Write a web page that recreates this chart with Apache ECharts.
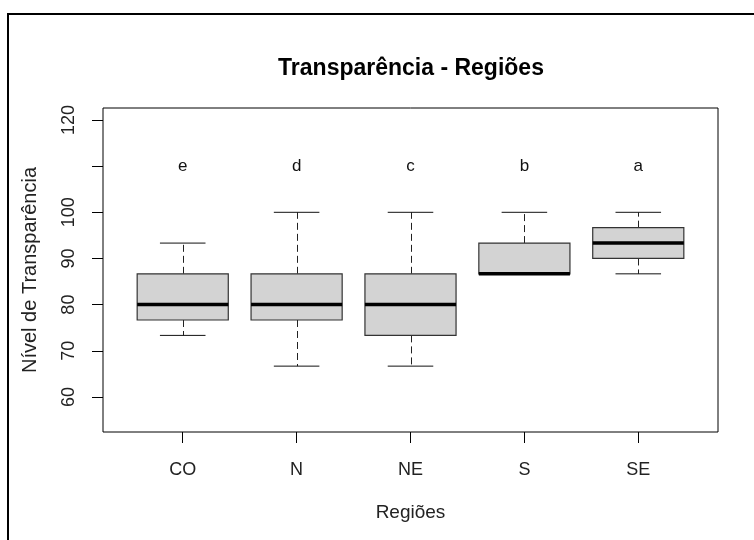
<!DOCTYPE html>
<html>
<head>
<meta charset="utf-8">
<script src="https://cdn.jsdelivr.net/npm/echarts@6/dist/echarts.min.js"></script>
<style>
  html, body { margin: 0; padding: 0; background: #fff; }
  #main { width: 754px; height: 540px; }
</style>
</head>
<body>
<div id="main"></div>
<script>
// regioes e estatisticas do boxplot (min, q1, mediana, q3, max)
var regioes = ['CO', 'N', 'NE', 'S', 'SE'];
var minimo  = [73.33, 66.67, 66.67, 86.67, 86.67];
var q1      = [76.67, 76.67, 73.33, 86.67, 90.00];
var mediana = [80.00, 80.00, 80.00, 86.67, 93.33];
var q3      = [86.67, 86.67, 86.67, 93.33, 96.67];
var maximo  = [93.33, 100.00, 100.00, 100.00, 100.00];
var letras  = ['e', 'd', 'c', 'b', 'a'];
var letraY  = 110;
var yTicks  = [60, 70, 80, 90, 100, 110, 120];
var yLabels = [60, 70, 80, 90, 100, 120];

var chart = echarts.init(document.getElementById('main'), null, { renderer: 'canvas' });

var boxData = regioes.map(function (r, i) {
  return [i + 1, minimo[i], q1[i], mediana[i], q3[i], maximo[i]];
});
var letraData = letras.map(function (l, i) { return [i + 1, letraY, l]; });

var fonte = '"Liberation Sans", Arial, sans-serif';

function renderBox(params, api) {
  var x = api.value(0);
  var half = 0.4, stapleHalf = 0.2;
  var pMin = api.coord([x, api.value(1)]);
  var pQ1 = api.coord([x, api.value(2)]);
  var pMed = api.coord([x, api.value(3)]);
  var pQ3 = api.coord([x, api.value(4)]);
  var pMax = api.coord([x, api.value(5)]);
  var left = api.coord([x - half, 0])[0];
  var right = api.coord([x + half, 0])[0];
  var sl = api.coord([x - stapleHalf, 0])[0];
  var sr = api.coord([x + stapleHalf, 0])[0];
  var cx = Math.round(pMed[0]) + 0.5;
  var dash = { stroke: '#222', lineWidth: 1, lineDash: [7, 4] };
  var solid = { stroke: '#111', lineWidth: 1 };
  return {
    type: 'group',
    children: [
      { type: 'line', shape: { x1: cx, y1: pQ3[1], x2: cx, y2: pMax[1] }, style: dash },
      { type: 'line', shape: { x1: cx, y1: pQ1[1], x2: cx, y2: pMin[1] }, style: dash },
      { type: 'line', shape: { x1: sl, y1: pMax[1], x2: sr, y2: pMax[1] }, style: solid },
      { type: 'line', shape: { x1: sl, y1: pMin[1], x2: sr, y2: pMin[1] }, style: solid },
      { type: 'rect', shape: { x: left, y: pQ3[1], width: right - left, height: pQ1[1] - pQ3[1] },
        style: { fill: '#d3d3d3', stroke: '#333', lineWidth: 1.2 } },
      { type: 'line', shape: { x1: left, y1: pMed[1], x2: right, y2: pMed[1] },
        style: { stroke: '#000', lineWidth: 3.5 } }
    ]
  };
}

function renderLetra(params, api) {
  var p = api.coord([api.value(0), api.value(1)]);
  return {
    type: 'text',
    x: p[0], y: p[1],
    style: {
      text: letras[params.dataIndex],
      fill: '#111',
      font: '17px ' + fonte,
      align: 'center',
      verticalAlign: 'middle'
    }
  };
}

var option = {
  backgroundColor: '#fff',
  animation: false,
  title: {
    text: 'Transparência - Regiões',
    left: 406,
    top: 52,
    textAlign: 'center',
    textStyle: { fontFamily: fonte, fontWeight: 'bold', fontSize: 23, color: '#000' }
  },
  graphic: [
    { type: 'polyline', shape: { points: [[8, 545], [8, 14], [760, 14]] },
      style: { stroke: '#000', lineWidth: 2, fill: null } }
  ],
  grid: {
    left: 103, right: 36, top: 108, bottom: 108,
    show: true, borderColor: '#000', borderWidth: 1, backgroundColor: 'transparent'
  },
  xAxis: {
    type: 'value',
    min: 0.3, max: 5.7,
    name: 'Regiões',
    nameLocation: 'middle',
    nameGap: 71,
    nameTextStyle: { fontFamily: fonte, fontSize: 19, color: '#222' },
    splitLine: { show: false },
    axisLine: { show: false },
    axisTick: { show: true, length: 11, lineStyle: { color: '#000' }, customValues: [1, 2, 3, 4, 5] },
    axisLabel: {
      customValues: [1, 2, 3, 4, 5],
      formatter: function (v) { return regioes[Math.round(v) - 1]; },
      margin: 29,
      fontFamily: fonte, fontSize: 18, color: '#222'
    }
  },
  yAxis: {
    type: 'value',
    min: 52.4, max: 122.6,
    name: 'Nível de Transparência',
    nameLocation: 'middle',
    nameGap: 63,
    nameRotate: 90,
    nameTextStyle: { fontFamily: fonte, fontSize: 20, color: '#222' },
    splitLine: { show: false },
    axisLine: { show: false },
    axisTick: { show: true, length: 11, lineStyle: { color: '#000' }, customValues: yTicks },
    axisLabel: {
      customValues: yLabels,
      rotate: 90,
      margin: 25,
      fontFamily: fonte, fontSize: 18, color: '#222'
    }
  },
  series: [
    {
      type: 'custom',
      renderItem: renderBox,
      encode: { x: 0, y: [1, 2, 3, 4, 5] },
      data: boxData,
      silent: true
    },
    {
      type: 'custom',
      renderItem: renderLetra,
      encode: { x: 0, y: 1 },
      data: letraData,
      silent: true
    }
  ]
};

chart.setOption(option);
</script>
</body>
</html>
